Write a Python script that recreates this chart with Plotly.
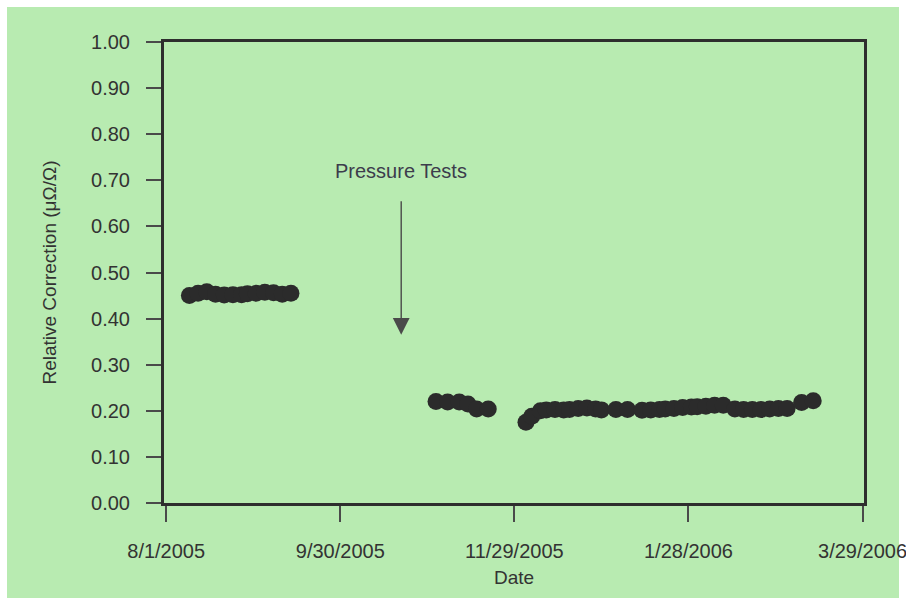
import plotly.graph_objects as go

# Measurement dates and relative corrections (µΩ/Ω)
dates_before = ["2005-08-09", "2005-08-12", "2005-08-15", "2005-08-18", "2005-08-21",
                "2005-08-24", "2005-08-27", "2005-08-29", "2005-09-01", "2005-09-04",
                "2005-09-07", "2005-09-10", "2005-09-13"]
corr_before = [0.450, 0.455, 0.458, 0.453, 0.451, 0.452, 0.452, 0.454, 0.455, 0.457,
               0.456, 0.453, 0.455]

dates_after = ["2005-11-02", "2005-11-06", "2005-11-10", "2005-11-13", "2005-11-16",
               "2005-11-20",
               "2005-12-03", "2005-12-05", "2005-12-08", "2005-12-10", "2005-12-13",
               "2005-12-16", "2005-12-18", "2005-12-21", "2005-12-24", "2005-12-27",
               "2005-12-29", "2006-01-03", "2006-01-07",
               "2006-01-12", "2006-01-15", "2006-01-18", "2006-01-20", "2006-01-23",
               "2006-01-26", "2006-01-29", "2006-01-31", "2006-02-03", "2006-02-06",
               "2006-02-09",
               "2006-02-13", "2006-02-16", "2006-02-19", "2006-02-22", "2006-02-25",
               "2006-02-28", "2006-03-03",
               "2006-03-08", "2006-03-12"]
corr_after = [0.220, 0.219, 0.219, 0.215, 0.204, 0.204,
              0.175, 0.188, 0.200, 0.202, 0.203, 0.202, 0.203, 0.205, 0.206, 0.204,
              0.202, 0.203, 0.203,
              0.201, 0.202, 0.203, 0.204, 0.205, 0.207, 0.208, 0.209, 0.210, 0.212,
              0.212,
              0.204, 0.203, 0.203, 0.203, 0.204, 0.205, 0.205,
              0.218, 0.222]

x_tick_dates = ["2005-08-01", "2005-09-30", "2005-11-29", "2006-01-28", "2006-03-29"]
x_tick_labels = ["8/1/2005", "9/30/2005", "11/29/2005", "1/28/2006", "3/29/2006"]
y_ticks = [0.0, 0.1, 0.2, 0.3, 0.4, 0.5, 0.6, 0.7, 0.8, 0.9, 1.0]

event_label = "Pressure Tests"
event_date = "2005-10-21"

W, H = 906, 606
ML, MR, MT, MB = 164, 42, 42, 103
GREEN = "#b8ebb1"
INK = "#333333"
FONT = "Liberation Sans, Arial, sans-serif"

fig = go.Figure()
for xs, ys in ((dates_before, corr_before), (dates_after, corr_after)):
    fig.add_trace(go.Scatter(
        x=xs, y=ys, mode="markers",
        marker=dict(size=17, color="#2b2b2b", line=dict(width=0)),
        showlegend=False, hoverinfo="x+y",
    ))

# arrow marking the pressure tests
fig.add_annotation(
    x=event_date, y=0.365, xref="x", yref="y",
    ax=0, ay=-135, axref="pixel", ayref="pixel",
    text="", showarrow=True, arrowhead=2, arrowsize=2.4, arrowwidth=1.4,
    arrowcolor="#4a4a4a",
)
fig.add_annotation(
    x=event_date, y=0.72, xref="x", yref="y", text=event_label,
    showarrow=False, font=dict(family=FONT, size=20, color="#3c3c4c"),
)

# white page border around the green panel
pw = W - ML - MR
ph = H - MT - MB
def px_to_paper_x(px):
    return (px - ML) / pw
def px_to_paper_y(py):
    return (H - MB - py) / ph

fig.add_shape(type="rect", xref="paper", yref="paper", layer="below",
              x0=px_to_paper_x(7), x1=px_to_paper_x(W - 7),
              y0=px_to_paper_y(H - 8), y1=px_to_paper_y(7),
              fillcolor=GREEN, line=dict(width=0))

axis_common = dict(
    showline=True, linecolor="#2e2e2e", linewidth=3, mirror=True,
    showgrid=False, zeroline=False, automargin=False,
    ticks="outside", tickcolor="#4a4a4a", tickwidth=1.5,
    ticklabeloverflow="allow",
    tickfont=dict(family=FONT, size=20, color=INK),
)

fig.update_xaxes(
    type="date",
    range=["2005-07-31 06:00", "2006-03-29 12:00"],
    tickmode="array", tickvals=x_tick_dates, ticktext=x_tick_labels,
    ticklen=16, ticklabelstandoff=12,
    title=dict(text="Date", font=dict(family=FONT, size=19, color=INK), standoff=10),
    **axis_common,
)
fig.update_yaxes(
    range=[0, 1.0],
    tickmode="array", tickvals=y_ticks, tickformat=".2f",
    ticklen=15, ticklabelstandoff=12,
    title=dict(text="Relative Correction (μΩ/Ω)",
               font=dict(family=FONT, size=19, color=INK), standoff=30),
    **axis_common,
)

fig.update_layout(
    width=W, height=H,
    margin=dict(l=ML, r=MR, t=MT, b=MB),
    paper_bgcolor="white", plot_bgcolor="white",
    font=dict(family=FONT, color=INK),
)

fig.write_html("out.html")
